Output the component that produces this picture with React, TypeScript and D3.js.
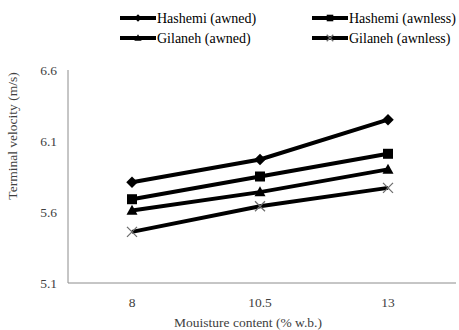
import React, { useEffect, useRef } from "react";
import * as d3 from "d3";

const moisture = ["8", "10.5", "13"];
const hashemiAwned = [5.81, 5.97, 6.25];
const hashemiAwnless = [5.69, 5.85, 6.01];
const gilanehAwned = [5.61, 5.74, 5.9];
const gilanehAwnless = [5.46, 5.64, 5.77];
const yTicks = [5.1, 5.6, 6.1, 6.6];

const seriesList = [
  { name: "Hashemi (awned)", values: hashemiAwned, marker: "diamond" },
  { name: "Hashemi (awnless)", values: hashemiAwnless, marker: "square" },
  { name: "Gilaneh (awned)", values: gilanehAwned, marker: "triangle" },
  { name: "Gilaneh (awnless)", values: gilanehAwnless, marker: "x" },
];

function markerPath(kind: string, r: number) {
  if (kind === "diamond") return `M0,${-r * 1.15}L${r * 1.15},0L0,${r * 1.15}L${-r * 1.15},0Z`;
  if (kind === "square") return `M${-r},${-r}H${r}V${r}H${-r}Z`;
  if (kind === "triangle") return `M0,${-r * 1.15}L${r * 1.1},${r * 0.85}L${-r * 1.1},${r * 0.85}Z`;
  return `M${-r},${-r}L${r},${r}M${-r},${r}L${r},${-r}`;
}

function drawMarker(g: any, kind: string, x: number, y: number, r: number) {
  const p = g.append("path")
    .attr("d", markerPath(kind, r))
    .attr("transform", `translate(${x},${y})`);
  if (kind === "x") {
    p.attr("fill", "none").attr("stroke", "#6e6e6e").attr("stroke-width", 1.3);
  } else {
    p.attr("fill", "#000").attr("stroke", "none");
  }
}

export default function App() {
  const ref = useRef<SVGSVGElement>(null);

  useEffect(() => {
    const svg = d3.select(ref.current);
    svg.selectAll("*").remove();

    const font = "Liberation Serif, DejaVu Serif, serif";
    const left = 68, right = 452, top = 70, bottom = 283;

    const x = d3.scalePoint().domain(moisture).range([left, right]).padding(0.5);
    const y = d3.scaleLinear().domain([5.1, 6.6]).range([bottom, top]);

    // axes
    svg.append("line")
      .attr("x1", left).attr("x2", left).attr("y1", top).attr("y2", bottom)
      .attr("stroke", "#8c8c8c").attr("stroke-width", 1);
    svg.append("line")
      .attr("x1", left).attr("x2", right + 4).attr("y1", bottom).attr("y2", bottom)
      .attr("stroke", "#8c8c8c").attr("stroke-width", 1);

    svg.selectAll(".ytick")
      .data(yTicks)
      .join("text")
      .attr("class", "ytick")
      .attr("x", left - 11)
      .attr("y", d => y(d))
      .attr("dy", "0.35em")
      .attr("text-anchor", "end")
      .style("font-family", font)
      .attr("font-size", 13.5)
      .attr("fill", "#404040")
      .text(d => d.toFixed(1));

    svg.selectAll(".xtick")
      .data(moisture)
      .join("text")
      .attr("class", "xtick")
      .attr("x", d => x(d)!)
      .attr("y", bottom + 19)
      .attr("dy", "0.35em")
      .attr("text-anchor", "middle")
      .style("font-family", font)
      .attr("font-size", 13.5)
      .attr("fill", "#404040")
      .text(d => d);

    // axis titles
    svg.append("text")
      .attr("x", 248).attr("y", 322)
      .attr("dy", "0.35em")
      .attr("text-anchor", "middle")
      .style("font-family", font).attr("font-size", 13.5)
      .attr("fill", "#404040")
      .text("Mouisture content (% w.b.)");
    svg.append("text")
      .attr("transform", "translate(12,136) rotate(-90)")
      .attr("dy", "0.35em")
      .attr("text-anchor", "middle")
      .style("font-family", font).attr("font-size", 13.5)
      .attr("fill", "#404040")
      .text("Terminal velocity (m/s)");

    // lines
    const line = d3.line<number>()
      .x((_, i) => x(moisture[i])!)
      .y(d => y(d));

    const plot = svg.append("g");
    seriesList.forEach(s => {
      plot.append("path")
        .attr("d", line(s.values))
        .attr("fill", "none")
        .attr("stroke", "#000")
        .attr("stroke-width", 4);
    });
    seriesList.forEach(s => {
      s.values.forEach((v, i) => drawMarker(plot, s.marker, x(moisture[i])!, y(v), 5));
    });

    // legend
    const legendPos = [
      { lx: 120, ly: 18 },
      { lx: 312, ly: 18 },
      { lx: 120, ly: 38 },
      { lx: 312, ly: 38 },
    ];
    const legend = svg.append("g");
    seriesList.forEach((s, i) => {
      const { lx, ly } = legendPos[i];
      legend.append("line")
        .attr("x1", lx).attr("x2", lx + 36).attr("y1", ly).attr("y2", ly)
        .attr("stroke", "#000").attr("stroke-width", 4);
      drawMarker(legend, s.marker, lx + 18, ly, 3.3);
      legend.append("text")
        .attr("x", lx + 37).attr("y", ly)
        .attr("dy", "0.35em")
        .style("font-family", font).attr("font-size", 14)
        .attr("fill", "#000")
        .text(s.name);
    });
  }, []);

  return (
    <svg ref={ref} width={459} height={330}
      style={{ position: "absolute", left: 0, top: 0, background: "#fff" }} />
  );
}
